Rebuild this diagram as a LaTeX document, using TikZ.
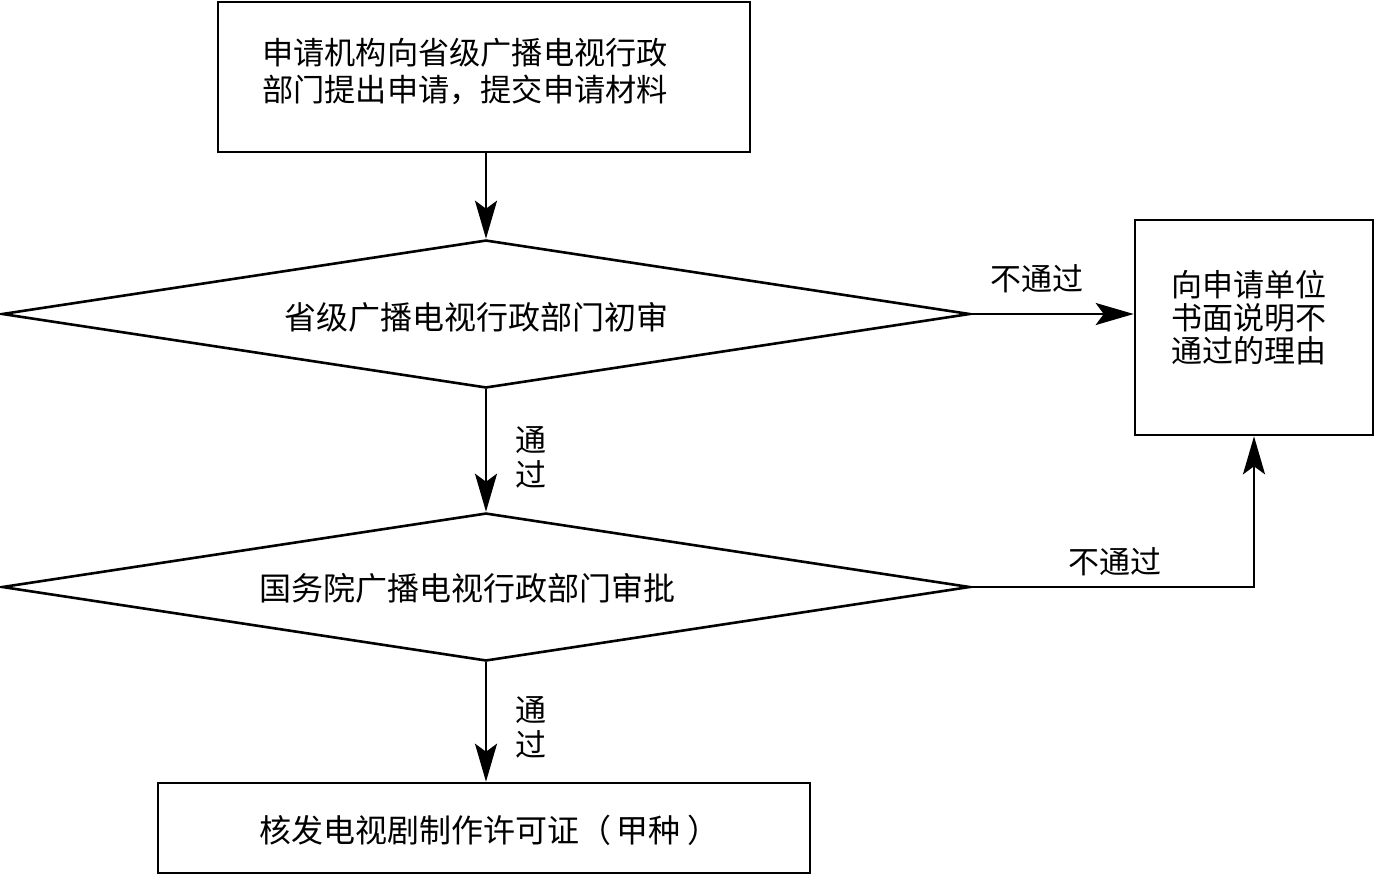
\documentclass[tikz,border=0pt]{standalone}
\usepackage{fontspec}
\setmainfont{Noto Sans CJK SC}
\usetikzlibrary{arrows.meta,shapes.geometric}
\begin{document}
\begin{tikzpicture}[x=0.5pt,y=-0.5pt, line width=1.3pt,
  box/.style={draw, rectangle, inner sep=0pt},
  dia/.style={draw, diamond, inner sep=0pt, aspect=6.5, minimum width=484pt, minimum height=74pt},
  txt/.style={font=\fontsize{16pt}{18.5pt}\selectfont, align=center, inner sep=0pt},
  lab/.style={font=\fontsize{15.5pt}{17.5pt}\selectfont, align=center, inner sep=0pt},
  arr/.style={-{Stealth[length=19pt,width=11pt,inset=4pt]}}]
\useasboundingbox (0,0) rectangle (1375,875);

\node[box, minimum width=266pt, minimum height=75pt] (top) at (484,77) {};
\node[txt, font=\fontsize{15.6pt}{18.5pt}\selectfont] (toptxt) at (465,71.5) {申请机构向省级广播电视行政\\部门提出申请，提交申请材料};

\node[dia] (d1) at (486,314) {};
\node[txt] (d1txt) at (476,317) {省级广播电视行政部门初审};

\node[dia] (d2) at (486,587) {};
\node[txt] (d2txt) at (467,588) {国务院广播电视行政部门审批};

\node[box, minimum width=119pt, minimum height=107.5pt] (r) at (1254,327.5) {};
\node[txt, font=\fontsize{15.5pt}{16.5pt}\selectfont] (rtxt) at (1249,318) {向申请单位\\书面说明不\\通过的理由};

\node[box, minimum width=326pt, minimum height=45pt] (bot) at (484,828) {};
\node[txt] (bottxt) at (489,830) {核发电视剧制作许可证（\kern3pt 甲种\kern3pt）};

\draw[arr] (top.south -| d1.north) -- (d1.north);
\draw[arr] (d1.south) -- (d2.north);
\draw[arr] (d2.south) -- (d2.south |- bot.north);
\draw[arr] (d1.east) -- (d1.east -| r.west);
\draw[arr] (d2.east) -| (r.south);

\node[lab] (l1) at (1037,279) {不通过};
\node[lab] (l2) at (1115,562) {不通过};
\node[lab] (l3) at (531,457) {通\\过};
\node[lab] (l4) at (531,727) {通\\过};
\end{tikzpicture}
\end{document}
